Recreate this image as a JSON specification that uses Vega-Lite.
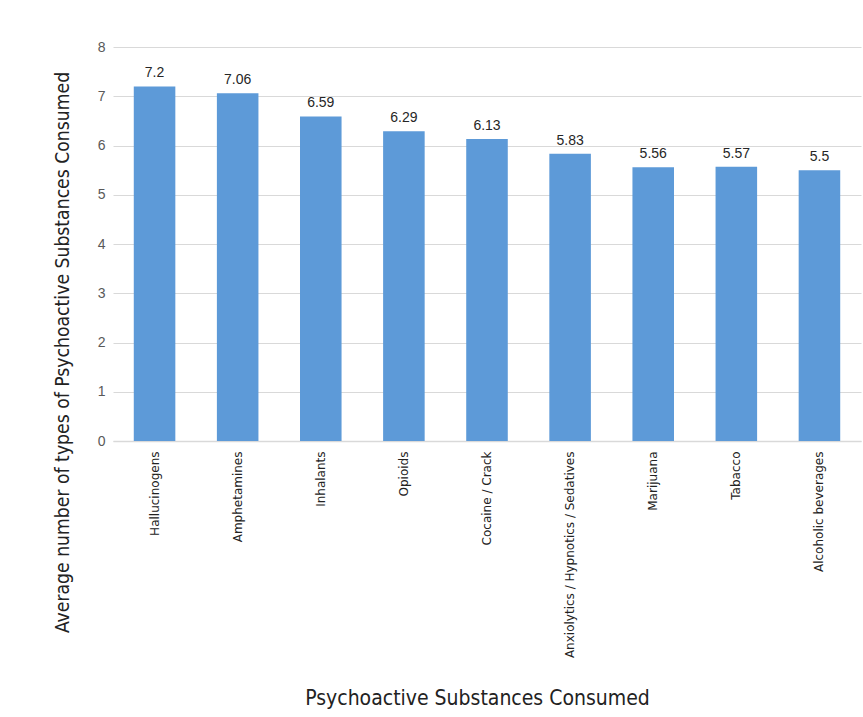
{
  "$schema": "https://vega.github.io/schema/vega-lite/v6.json",
  "width": 748,
  "height": 394,
  "autosize": {"type": "none"},
  "padding": {"left": 113, "top": 47, "right": 2, "bottom": 276},
  "background": "white",
  "data": {
    "values": [
      {"substance": "Hallucinogens", "avg": 7.2},
      {"substance": "Amphetamines", "avg": 7.06},
      {"substance": "Inhalants", "avg": 6.59},
      {"substance": "Opioids", "avg": 6.29},
      {"substance": "Cocaine / Crack", "avg": 6.13},
      {"substance": "Anxiolytics / Hypnotics / Sedatives", "avg": 5.83},
      {"substance": "Marijuana", "avg": 5.56},
      {"substance": "Tabacco", "avg": 5.57},
      {"substance": "Alcoholic beverages", "avg": 5.5}
    ]
  },
  "encoding": {
    "x": {
      "field": "substance",
      "type": "nominal",
      "sort": null,
      "scale": {"paddingInner": 0.5, "paddingOuter": 0.25},
      "axis": {
        "title": "Psychoactive Substances Consumed",
        "titleFont": "DejaVu Sans Condensed",
        "titleFontSize": 21,
        "titleFontWeight": "normal",
        "titleColor": "#222222",
        "titleX": 364,
        "titleY": 257,
        "titleBaseline": "middle",
        "titleAlign": "center",
        "labelAngle": -90,
        "labelFont": "DejaVu Sans",
        "labelFontSize": 12,
        "labelColor": "#222222",
        "labelPadding": 10,
        "labelLimit": 300,
        "ticks": false,
        "domainColor": "#d9d9d9",
        "domainWidth": 1.5,
        "grid": false
      }
    },
    "y": {
      "field": "avg",
      "type": "quantitative",
      "scale": {"domain": [0, 8]},
      "axis": {
        "title": "Average number of types of Psychoactive Substances Consumed",
        "titleFont": "DejaVu Sans Condensed",
        "titleFontSize": 19.2,
        "titleFontWeight": "normal",
        "titleColor": "#222222",
        "titleX": -51,
        "titleY": 305,
        "titleBaseline": "middle",
        "titleAlign": "center",
        "values": [0, 1, 2, 3, 4, 5, 6, 7, 8],
        "labelFont": "Liberation Sans",
        "labelFontSize": 14,
        "labelColor": "#595959",
        "labelPadding": 8,
        "labelOverlap": false,
        "ticks": false,
        "domain": false,
        "gridColor": "#d9d9d9",
        "gridWidth": 1.2
      }
    }
  },
  "layer": [
    {
      "mark": {"type": "bar", "color": "#5d9ad8"}
    },
    {
      "mark": {
        "type": "text",
        "baseline": "bottom",
        "dy": -6,
        "font": "Liberation Sans",
        "fontSize": 14,
        "color": "#262626"
      },
      "encoding": {"text": {"field": "avg", "type": "quantitative"}}
    }
  ],
  "config": {"view": {"stroke": null}}
}
